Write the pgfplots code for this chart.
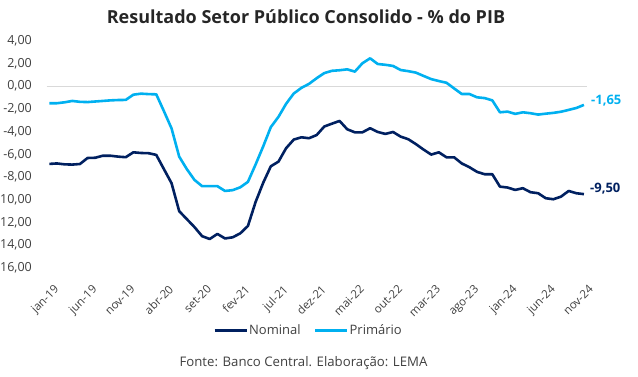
\documentclass[border=0pt]{standalone}
\usepackage{fontspec}
\setmainfont{Open Sans}
\usepackage{pgfplots}
\usepackage{pgfplotstable}
\pgfplotsset{compat=1.18}
\definecolor{nav}{HTML}{002060}
\definecolor{lb}{HTML}{00B0F0}
\definecolor{txt}{HTML}{404040}
\definecolor{ttl}{HTML}{262626}
\pgfplotstableread{
i nom prim
0 -6.84 -1.50
1 -6.80 -1.50
2 -6.88 -1.42
3 -6.90 -1.30
4 -6.85 -1.38
5 -6.32 -1.40
6 -6.30 -1.35
7 -6.12 -1.30
8 -6.12 -1.25
9 -6.20 -1.22
10 -6.25 -1.21
11 -5.82 -0.75
12 -5.88 -0.66
13 -5.90 -0.70
14 -6.05 -0.72
15 -7.30 -2.20
16 -8.54 -3.72
17 -11.00 -6.20
18 -11.70 -7.30
19 -12.40 -8.25
20 -13.20 -8.80
21 -13.45 -8.80
22 -13.00 -8.80
23 -13.40 -9.22
24 -13.30 -9.15
25 -12.95 -8.90
26 -12.30 -8.42
27 -10.20 -6.90
28 -8.50 -5.30
29 -7.05 -3.60
30 -6.64 -2.70
31 -5.46 -1.55
32 -4.70 -0.65
33 -4.50 -0.15
34 -4.58 0.20
35 -4.30 0.70
36 -3.55 1.15
37 -3.30 1.35
38 -3.06 1.40
39 -3.79 1.48
40 -4.06 1.28
41 -4.06 2.02
42 -3.70 2.45
43 -4.03 1.95
44 -4.20 1.88
45 -4.03 1.78
46 -4.44 1.42
47 -4.67 1.32
48 -5.10 1.19
49 -5.58 0.90
50 -6.02 0.62
51 -5.82 0.45
52 -6.26 0.30
53 -6.26 -0.20
54 -6.80 -0.69
55 -7.13 -0.69
56 -7.54 -0.98
57 -7.75 -1.05
58 -7.75 -1.25
59 -8.84 -2.30
60 -8.92 -2.24
61 -9.13 -2.44
62 -8.98 -2.30
63 -9.33 -2.38
64 -9.42 -2.50
65 -9.86 -2.42
66 -9.95 -2.35
67 -9.72 -2.25
68 -9.22 -2.09
69 -9.42 -1.92
70 -9.50 -1.65
}\datatab
\begin{document}
\begin{tikzpicture}[x=1pt,y=1pt]
\useasboundingbox (0,0) rectangle (638,376);
\begin{axis}[
  at={(46.7pt,108pt)}, anchor=south west, scale only axis,
  width=540.3pt, height=227.3pt,
  xmin=-0.35, xmax=70.4, ymin=-16, ymax=4,
  axis line style={draw=none}, tick style={draw=none},
  ytick={-16,-14,...,4},
  extra y ticks={0}, extra y tick labels={},
  extra y tick style={grid=major, major grid style={draw=black!15, line width=0.8pt}},
  yticklabel style={anchor=east, inner sep=0pt, xshift=-14.7pt, font=\fontsize{12.5}{14}\selectfont, text=txt},
  /pgf/number format/.cd, use comma, fixed, fixed zerofill, precision=2, 1000 sep={}, assume math mode=true,
  /pgfplots/.cd,
  xtick={0,5,...,70},
  xticklabels={jan-19,jun-19,nov-19,abr-20,set-20,fev-21,jul-21,dez-21,mai-22,out-22,mar-23,ago-23,jan-24,jun-24,nov-24},
  xticklabel style={xshift=4pt, yshift=-16pt, rotate=45, anchor=north east, inner sep=0pt, font=\fontsize{11.5}{13}\selectfont, text=txt},
  legend style={at={(0.4836,-0.276)}, anchor=center, draw=none, fill=none, legend columns=2,
    font=\fontsize{13}{15}\selectfont, text=txt,
    /tikz/every even column/.append style={column sep=12pt},
    nodes={inner sep=1pt}},
  legend image code/.code={\draw[#1, line width=3pt] (0pt,0pt) -- (32pt,0pt);},
  clip=false,
]
\addplot[nav, line width=2.6pt, line join=round] table[x=i, y=nom] {\datatab};
\addlegendentry{Nominal}
\addplot[lb, line width=2.6pt, line join=round] table[x=i, y=prim] {\datatab};
\addlegendentry{Primário}
\node[anchor=west, inner sep=0pt, xshift=7pt, yshift=4.5pt, text=lb, font=\bfseries\fontsize{13}{15}\selectfont] at (axis cs:70,-1.65) {-1,65};
\node[anchor=west, inner sep=0pt, xshift=6pt, yshift=6pt, text=nav, font=\bfseries\fontsize{13}{15}\selectfont] at (axis cs:70,-9.50) {-9,50};
\end{axis}
\node[anchor=base, inner sep=0pt, text=ttl, font=\bfseries\fontsize{18}{21}\selectfont] at (306,352.7) {Resultado Setor Público Consolido - \% do PIB};
\node[anchor=base, inner sep=0pt, text=txt, font=\fontsize{13.2}{15}\selectfont] at (303.5,10) {Fonte: Banco Central. Elaboração: LEMA};
\end{tikzpicture}
\end{document}
